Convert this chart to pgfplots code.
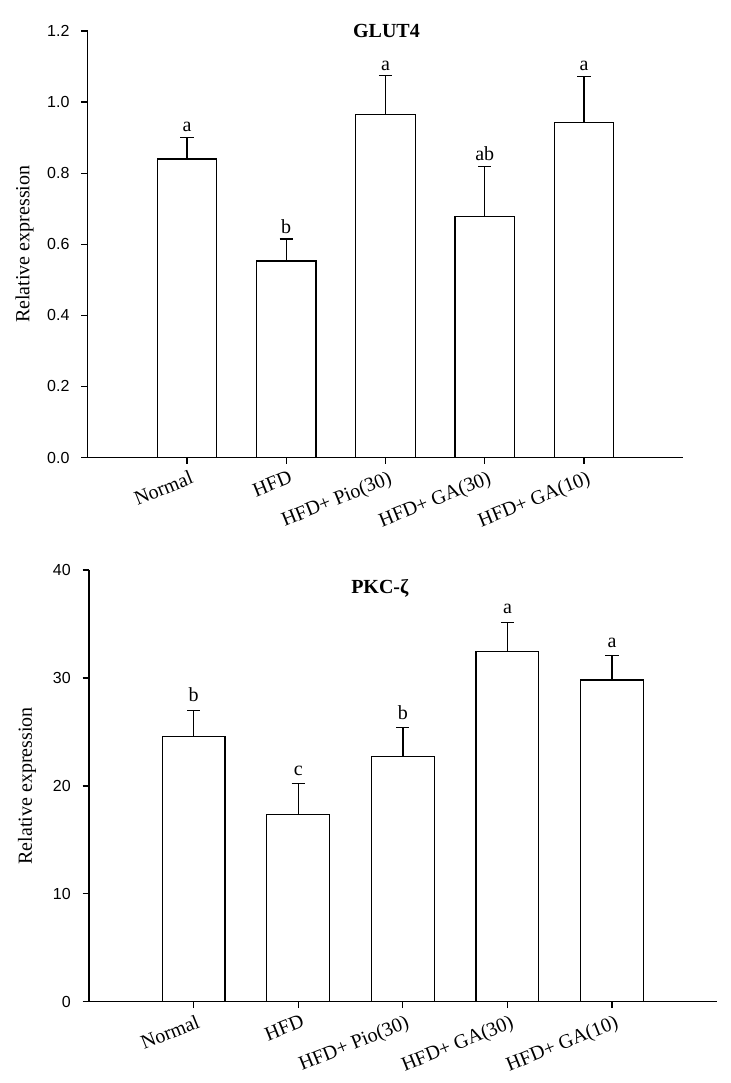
\documentclass[border=0pt]{standalone}
\usepackage{fontspec}
\setmainfont{Liberation Serif}
\setsansfont{Liberation Sans}
\usepackage{pgfplots}
\usepackage{pgfplotstable}
\pgfplotsset{compat=1.18}

\pgfplotstableread{
x y e
0 0.840 0.061
1 0.553 0.062
2 0.966 0.108
3 0.677 0.142
4 0.943 0.129
}\glut

\pgfplotstableread{
x y e
0 24.58 2.42
1 17.37 2.83
2 22.75 2.65
3 32.45 2.70
4 29.80 2.27
}\pkc

\pgfplotsset{
 panel/.style={
   scale only axis,
   axis x line=bottom, axis y line=left,
   x axis line style={-, line width=0.65pt},
   y axis line style={-, line width=0.65pt},
   tick align=outside,
   major tick length=3.2pt,
   tick style={line width=0.65pt, black},
   xtick={0,1,2,3,4},
   xticklabels={Normal, HFD, HFD+ Pio(30), HFD+ GA(30), HFD+ GA(10)},
   xmin=-1, xmax=5,
   xticklabel style={rotate=22, anchor=north east, font=\fontsize{10}{12}\selectfont, inner sep=1pt, yshift=-2pt, xshift=1pt},
   yticklabel style={font=\fontsize{8}{9}\selectfont\sffamily, xshift=-2.4pt},
   /pgf/number format/assume math mode=true,
   ybar, bar width=0.6,
   ymin=0,
   clip=false,
   ylabel={Relative expression},
 },
 barstyle/.style={fill=white, draw=black, line width=0.6pt,
   error bars/.cd, y dir=plus, y explicit,
   error bar style={line width=0.7pt, black},
   error mark options={rotate=90, line width=0.7pt, mark size=3.3pt, black}},
}

\begin{document}
\begin{tikzpicture}
\useasboundingbox (0,0) rectangle (365pt,541.5pt);

% top panel
\begin{axis}[panel,
  at={(43.85pt,312.75pt)}, anchor=south west,
  width=297.8pt, height=213.25pt,
  ymax=1.2, ytick={0,0.2,0.4,0.6,0.8,1.0,1.2},
  yticklabel style={/pgf/number format/.cd, fixed, fixed zerofill, precision=1},
  ylabel style={at={(axis description cs:-0.1058,0.5)}, anchor=center, font=\fontsize{10}{12}\selectfont},
]
\addplot[barstyle] table[x=x, y=y, y error=e] {\glut};
\node[font=\fontsize{10}{12}\selectfont\bfseries] at (axis cs:2.01,1.2) {GLUT4};
\node[anchor=base, yshift=2.8pt] at (axis cs:0,0.901) {a};
\node[anchor=base, yshift=2.8pt] at (axis cs:1,0.615) {b};
\node[anchor=base, yshift=2.8pt] at (axis cs:2,1.074) {a};
\node[anchor=base, yshift=2.8pt] at (axis cs:3,0.819) {ab};
\node[anchor=base, yshift=2.8pt] at (axis cs:4,1.072) {a};
\end{axis}

% bottom panel
\begin{axis}[panel,
  at={(44.5pt,40.65pt)}, anchor=south west,
  width=313.85pt, height=215.85pt,
  ymax=40, ytick={0,10,20,30,40},
  ylabel style={at={(axis description cs:-0.0988,0.5)}, anchor=center, font=\fontsize{10}{12}\selectfont},
]
\addplot[barstyle] table[x=x, y=y, y error=e] {\pkc};
\node[font=\fontsize{10}{12}\selectfont\bfseries] at (axis cs:1.78,38.3) {PKC-ζ};
\node[anchor=base, yshift=4.2pt] at (axis cs:0,27.00) {b};
\node[anchor=base, yshift=4.2pt] at (axis cs:1,20.20) {c};
\node[anchor=base, yshift=4.2pt] at (axis cs:2,25.40) {b};
\node[anchor=base, yshift=4.2pt] at (axis cs:3,35.15) {a};
\node[anchor=base, yshift=4.2pt] at (axis cs:4,32.07) {a};
\end{axis}
\end{tikzpicture}
\end{document}
